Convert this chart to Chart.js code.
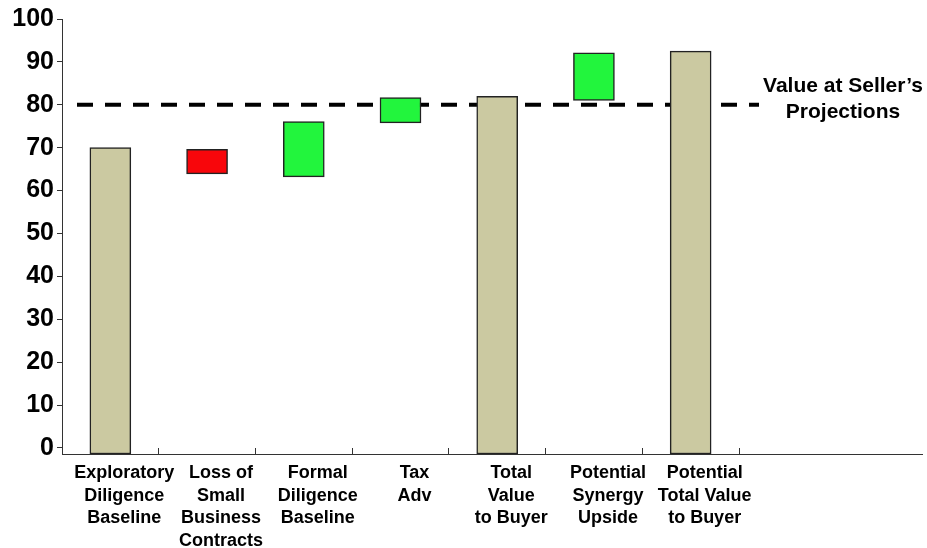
<!DOCTYPE html>
<html>
<head>
<meta charset="utf-8">
<script src="https://cdn.jsdelivr.net/npm/chart.js@4"></script>
<style>
  html, body { margin: 0; padding: 0; background: #fff; }
  #wrap { width: 927px; height: 548px; }
</style>
</head>
<body>
<div id="wrap"><canvas id="chart" width="927" height="548"></canvas></div>
<script>
/* ======================
DATA
====================== */

const categories = [
  ["Exploratory", "Diligence", "Baseline"],
  ["Loss of", "Small", "Business", "Contracts"],
  ["Formal", "Diligence", "Baseline"],
  ["Tax", "Adv"],
  ["Total", "Value", "to Buyer"],
  ["Potential", "Synergy", "Upside"],
  ["Potential", "Total Value", "to Buyer"]
];

// bottom of each bar (null = bar stands on the axis)
const barLow = [null, 63.9, 63.2, 75.8, null, 81.0, null];
// top of each bar
const barHigh = [70.0, 69.6, 76.1, 81.7, 82.0, 92.1, 92.5];
// total, loss or gain
const barKind = ["total", "loss", "gain", "gain", "total", "gain", "total"];

const yTicks = [0, 10, 20, 30, 40, 50, 60, 70, 80, 90, 100];
const yMin = -1.4;
const yMax = 100;

const sellerValue = 80;
const sellerLabel = ["Value at Seller\u2019s", "Projections"];

/* ======================
STYLE
====================== */

const FONT = "Arial, 'Liberation Sans', sans-serif";
const kindColors = { total: "#cbc9a1", loss: "#f8060b", gain: "#22f53d" };

/* ======================
PLUGINS
====================== */

const sellerLine = {
  id: "sellerLine",
  beforeDatasetsDraw(chart) {
    const { ctx, chartArea, scales } = chart;
    const y = scales.y.getPixelForValue(sellerValue);
    ctx.save();
    ctx.strokeStyle = "#000";
    ctx.lineWidth = 4;
    ctx.setLineDash([16, 12]);
    ctx.beginPath();
    ctx.moveTo(chartArea.left + 15, y);
    ctx.lineTo(chartArea.right + 20, y);
    ctx.stroke();
    ctx.restore();
  },
  afterDraw(chart) {
    const { ctx, chartArea, scales } = chart;
    const y = scales.y.getPixelForValue(sellerValue);
    ctx.save();
    // x axis line runs on past the last category
    ctx.strokeStyle = "#333";
    ctx.lineWidth = 1;
    ctx.beginPath();
    ctx.moveTo(chartArea.right, chartArea.bottom + 0.5);
    ctx.lineTo(chartArea.right + 184, chartArea.bottom + 0.5);
    ctx.stroke();

    ctx.fillStyle = "#000";
    ctx.font = "bold 21px " + FONT;
    ctx.textAlign = "center";
    ctx.textBaseline = "middle";
    ctx.fillText(sellerLabel[0], chartArea.right + 104, y - 19);
    ctx.fillText(sellerLabel[1], chartArea.right + 104, y + 7);
    ctx.restore();
  }
};

/* ======================
CHART
====================== */

new Chart(document.getElementById("chart"), {
  type: "bar",
  data: {
    labels: categories,
    datasets: [
      {
        data: barHigh.map((hi, i) => [barLow[i] === null ? yMin : barLow[i], hi]),
        backgroundColor: barKind.map(k => kindColors[k]),
        borderColor: "#222",
        borderWidth: 1.5,
        borderSkipped: false,
        barThickness: 41
      }
    ]
  },
  options: {
    responsive: false,
    animation: false,
    layout: { padding: { top: 19, right: 188, left: 0, bottom: 0 } },
    plugins: {
      legend: { display: false },
      tooltip: { enabled: false }
    },
    scales: {
      x: {
        offset: true,
        grid: {
          offset: true,
          drawOnChartArea: false,
          tickLength: -6,
          tickColor: "#333"
        },
        border: { color: "#333", width: 1 },
        ticks: {
          color: "#000",
          font: { family: FONT, size: 18, weight: "bold", lineHeight: 1.25 },
          padding: 14,
          labelOffset: 14,
          maxRotation: 0,
          autoSkip: false
        },
        afterFit(scale) { scale.height = 94; }
      },
      y: {
        min: yMin,
        max: yMax,
        afterBuildTicks(scale) {
          scale.ticks = yTicks.map(v => ({ value: v }));
        },
        grid: {
          drawOnChartArea: false,
          tickLength: 5,
          tickColor: "#333"
        },
        border: { color: "#333", width: 1 },
        ticks: {
          color: "#000",
          font: { family: FONT, size: 25, weight: "bold" },
          padding: 3
        },
        afterFit(scale) { scale.width = 62; }
      }
    }
  },
  plugins: [sellerLine]
});
</script>
</body>
</html>
